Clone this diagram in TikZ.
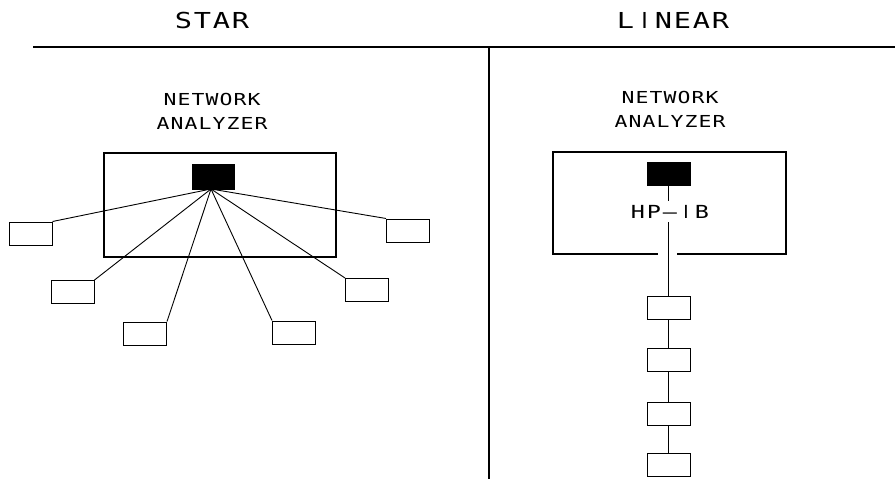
\documentclass[tikz,border=0pt]{standalone}
\usepackage{fontspec}
\newfontfamily\plotfont[FakeStretch=1.3]{DejaVu Sans Mono}
\newfontfamily\barfont{DejaVu Sans}
\makeatletter
\newcommand\pitched[2]{\@tfor\pch:=#2\do{\makebox[#1]{\if I\pch\barfont I\else\pch\fi}}}
\makeatother
\tikzset{
  lbl/.style={inner sep=0pt, anchor=base, font=\plotfont\fontsize{16.5}{16.5}\selectfont},
  ttl/.style={inner sep=0pt, anchor=base, font=\plotfont\fontsize{22}{22}\selectfont},
  dev/.style={draw, line width=1pt, minimum width=43pt, minimum height=23pt, inner sep=0pt},
  blk/.style={draw, fill=black, minimum width=42pt, minimum height=25pt, inner sep=0pt},
  wire/.style={line width=0.9pt},
}
\begin{document}
\begin{tikzpicture}[x=1pt,y=-1pt]
\useasboundingbox (0,0) rectangle (895,479);
% frame lines
\coordinate (hl) at (33,47);
\coordinate (hr) at (895,47);
\coordinate (vt) at (489,47);
\coordinate (vb) at (489,479);
\draw[line width=1.8pt] (hl) -- (hr);
\draw[line width=1.5pt] (vt) -- (vb);
% titles
\node[ttl] (tstar) at (212,28.5) {\pitched{19pt}{STAR}};
\node[ttl] (tlin) at (673,28.5) {\pitched{19pt}{LINEAR}};

% ---------- STAR ----------
\node[lbl] (snet) at (212,105) {\pitched{14pt}{NETWORK}};
\node[lbl] (sana) at (212,129) {\pitched{14pt}{ANALYZER}};
\node[draw, line width=1.2pt, minimum width=232pt, minimum height=104pt, inner sep=0pt] (sbox) at (220,205) {};
\node[blk] (sblk) at (213,176.5) {};
\coordinate (hub) at (211,189);
\node[dev] (s1) at (30.5,233.5) {};
\node[dev] (s2) at (72.5,292) {};
\node[dev] (s3) at (145,333.5) {};
\node[dev] (s4) at (294,332.5) {};
\node[dev] (s5) at (367,290) {};
\node[dev] (s6) at (408,230.5) {};
\draw[wire] (hub) -- (s1.north east);
\draw[wire] (hub) -- (s2.north east);
\draw[wire] (hub) -- (s3.north east);
\draw[wire] (hub) -- (s4.north west);
\draw[wire] (hub) -- (s5.north west);
\draw[wire] (hub) -- (s6.north west);

% ---------- LINEAR ----------
\node[lbl] (lnet) at (670,103.5) {\pitched{14pt}{NETWORK}};
\node[lbl] (lana) at (670,127) {\pitched{14pt}{ANALYZER}};
\node[draw, line width=1.2pt, minimum width=233pt, minimum height=102pt, inner sep=0pt] (lbox) at (669.5,203) {};
\draw[white, line width=2.5pt] (658,254) -- (677,254);
\node[blk, minimum width=43pt, minimum height=23pt] (lblk) at (668.5,173.5) {};
\node[inner xsep=0pt, inner ysep=4pt, anchor=base, font=\plotfont\fontsize{18}{18}\selectfont] (hpib) at (670,218) {\pitched{16pt}{HP–IB}};
\node[dev] (l1) at (668.5,307.5) {};
\node[dev] (l2) at (668.5,360) {};
\node[dev] (l3) at (668.5,413.5) {};
\node[dev] (l4) at (668.5,465) {};
\draw[wire] (lblk.south) -- (lblk.south |- hpib.north);
\draw[wire] (lblk.south |- hpib.south) -- (l1.north);
\draw[wire] (l1) -- (l2);
\draw[wire] (l2) -- (l3);
\draw[wire] (l3) -- (l4);
\end{tikzpicture}
\end{document}
